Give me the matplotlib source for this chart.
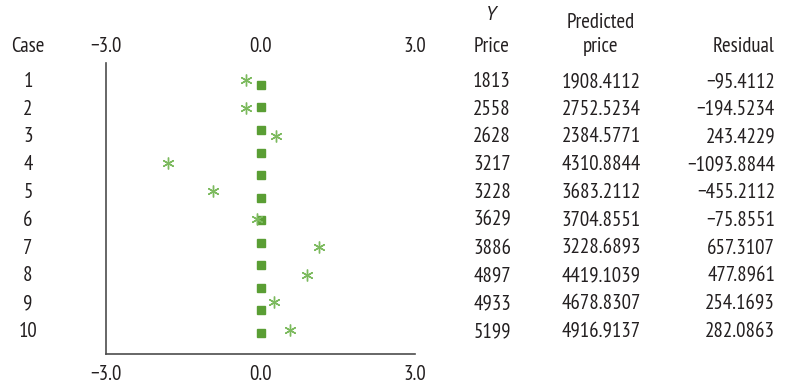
import matplotlib
matplotlib.use("Agg")
import matplotlib.pyplot as plt
import matplotlib.transforms as mtransforms
import numpy as np

plt.rcParams['font.family'] = ['PT Sans Narrow', 'DejaVu Sans']

cases = [1, 2, 3, 4, 5, 6, 7, 8, 9, 10]
std_resid = [-0.29, -0.29, 0.31, -1.79, -0.93, -0.06, 1.14, 0.90, 0.26, 0.58]
price = ['1813', '2558', '2628', '3217', '3228', '3629', '3886', '4897', '4933', '5199']
predicted = ['1908.4112', '2752.5234', '2384.5771', '4310.8844', '3683.2112',
             '3704.8551', '3228.6893', '4419.1039', '4678.8307', '4916.9137']
residual = ['\u221295.4112', '\u2212194.5234', '243.4229', '\u22121093.8844', '\u2212455.2112',
            '\u221275.8551', '657.3107', '477.8961', '254.1693', '282.0863']
xticks = [-3.0, 0.0, 3.0]
xticklabels = ['\u22123.0', '0.0', '3.0']

txt = '#231f20'
dark_green = '#5a9e34'
light_green = '#7cba5e'
fs = 15

fig = plt.figure(figsize=(7.85, 3.85), dpi=100)
ax = fig.add_axes([106 / 785, 31 / 385, 309 / 785, 291 / 385])

# zero reference line drawn as square dots
ys = np.linspace(1.18, 10.1, 12)
ax.plot(np.zeros_like(ys), ys, linestyle='none', marker='s', markersize=5.2,
        color=dark_green)
ax.plot(std_resid, cases, linestyle='none', marker=(6, 2, 0), markersize=8.5,
        markeredgewidth=1.0, color=light_green)

ax.set_xlim(-3, 3)
ax.set_ylim(10.86, 0.39)
ax.set_yticks([])
ax.set_xticks(xticks)
ax.set_xticklabels(xticklabels, fontsize=fs, color=txt)
ax.tick_params(axis='x', length=0, pad=8)
for s in ['top', 'right']:
    ax.spines[s].set_visible(False)
for s in ['left', 'bottom']:
    ax.spines[s].set_color('#4d4d4d')
    ax.spines[s].set_linewidth(1.2)

top = ax.secondary_xaxis('top')
top.set_xticks(xticks)
top.set_xticklabels(xticklabels, fontsize=fs, color=txt)
top.tick_params(length=0, pad=5)
top.spines['top'].set_visible(False)

# table text
tr = mtransforms.blended_transform_factory(fig.transFigure, ax.transData)
for c, p, pr, r in zip(cases, price, predicted, residual):
    ax.text(28 / 785, c + 0.05, str(c), transform=tr, ha='center', va='center',
            fontsize=fs, color=txt, clip_on=False)
    ax.text(492 / 785, c + 0.05, p, transform=tr, ha='center', va='center',
            fontsize=fs, color=txt, clip_on=False)
    ax.text(601 / 785, c + 0.05, pr, transform=tr, ha='center', va='center',
            fontsize=fs, color=txt, clip_on=False)
    ax.text(775 / 785, c + 0.05, r, transform=tr, ha='right', va='center',
            fontsize=fs, color=txt, clip_on=False)

hy = 1 - 46 / 385
fig.text(28 / 785, hy, 'Case', ha='center', va='center', fontsize=fs, color=txt)
fig.text(491 / 785, 1 - 15 / 385, 'Y', ha='center', va='center', fontsize=fs - 1,
         color=txt, style='italic', family=['PT Sans', 'DejaVu Sans'])
fig.text(492 / 785, hy, 'Price', ha='center', va='center', fontsize=fs, color=txt)
fig.text(601 / 785, 1 - 22 / 385, 'Predicted', ha='center', va='center',
         fontsize=fs, color=txt)
fig.text(601 / 785, hy, 'price', ha='center', va='center', fontsize=fs, color=txt)
fig.text(775 / 785, hy, 'Residual', ha='right', va='center', fontsize=fs, color=txt)

fig.savefig('out.png', dpi=100)
